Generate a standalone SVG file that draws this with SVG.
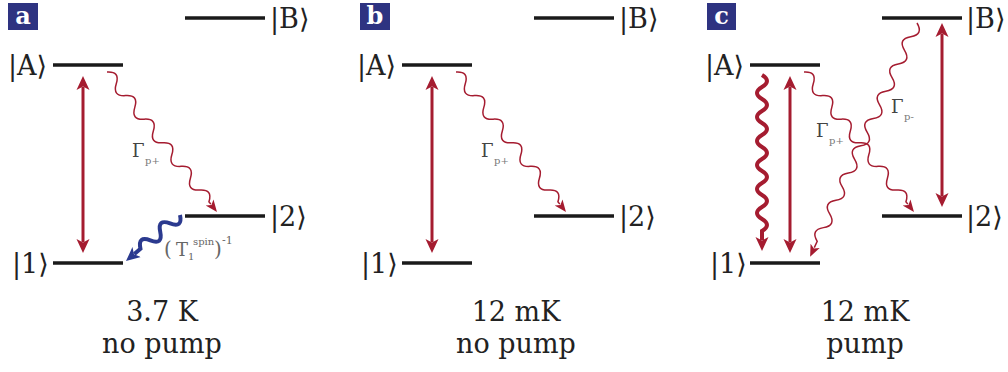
<svg xmlns="http://www.w3.org/2000/svg" width="1008" height="372" viewBox="0 0 1008 372">
<style>
text{font-family:'DejaVu Serif',serif}
.lvl{stroke:#1a1a1a;stroke-width:3.5;fill:none}
.ket{font-size:27px;fill:#222}
.cap{font-size:27px;fill:#222;text-anchor:middle}
.tag{fill:#2e3381}
.tagt{font-size:24px;font-weight:bold;fill:#fff;text-anchor:middle}
.dbl{stroke:#a51c30;stroke-width:3;fill:none;marker-start:url(#hd);marker-end:url(#hd)}
.wv{stroke:#a51c30;stroke-width:1.5;fill:none;marker-end:url(#hw)}
.wvT{stroke:#a51c30;stroke-width:4;fill:none;marker-end:url(#hd)}
.wvB{stroke:#2b3a8f;stroke-width:4;fill:none;marker-end:url(#hb)}
.gam{font-size:18px;fill:#444}
.sub{font-size:10px;fill:#777}
.tl{fill:#666}
</style>
<defs>
<marker id="hd" viewBox="0 -7 15 14" markerWidth="15" markerHeight="14" refX="3" refY="0" orient="auto-start-reverse" markerUnits="userSpaceOnUse">
<path d="M0,-6.5 L14,0 L0,6.5 L3.5,0 Z" fill="#a51c30"/>
</marker>
<marker id="hw" viewBox="0 -6 14 12" markerWidth="14" markerHeight="12" refX="2" refY="0" orient="auto" markerUnits="userSpaceOnUse">
<path d="M0,-5 L12,0 L0,5 L3,0 Z" fill="#a51c30"/>
</marker>
<marker id="hb" viewBox="0 -7 15 14" markerWidth="15" markerHeight="14" refX="3" refY="0" orient="auto" markerUnits="userSpaceOnUse">
<path d="M0,-6.5 L14,0 L0,6.5 L3.5,0 Z" fill="#2b3a8f"/>
</marker>
</defs>
<!-- Panel a -->
<g id="tag-a"><rect class="tag" x="8" y="3" width="30" height="27"/><text class="tagt" x="23" y="24">a</text></g>
<g id="a-B"><line class="lvl" x1="185" y1="18" x2="265" y2="18"/><text class="ket" x="270" y="28">|B⟩</text></g>
<g id="a-A"><line class="lvl" x1="53" y1="65" x2="123" y2="65"/><text class="ket" x="8" y="75">|A⟩</text></g>
<g id="a-2"><line class="lvl" x1="185" y1="216" x2="265" y2="216"/><text class="ket" x="270" y="226">|2⟩</text></g>
<g id="a-1"><line class="lvl" x1="53" y1="263" x2="123" y2="263"/><text class="ket" x="12" y="273">|1⟩</text></g>
<g id="a-cap"><text class="cap" x="162" y="321">3.7 K</text><text class="cap" x="162" y="353">no pump</text></g>

<!-- Panel b -->
<g id="tag-b"><rect class="tag" x="360" y="3" width="30" height="27"/><text class="tagt" x="375" y="24">b</text></g>
<g id="b-B"><line class="lvl" x1="534" y1="18" x2="614" y2="18"/><text class="ket" x="619" y="28">|B⟩</text></g>
<g id="b-A"><line class="lvl" x1="402" y1="65" x2="472" y2="65"/><text class="ket" x="357" y="75">|A⟩</text></g>
<g id="b-2"><line class="lvl" x1="534" y1="216" x2="614" y2="216"/><text class="ket" x="619" y="226">|2⟩</text></g>
<g id="b-1"><line class="lvl" x1="402" y1="263" x2="472" y2="263"/><text class="ket" x="361" y="273">|1⟩</text></g>
<g id="b-cap"><text class="cap" x="516" y="321">12 mK</text><text class="cap" x="516" y="353">no pump</text></g>

<!-- Panel c -->
<g id="tag-c"><rect class="tag" x="707" y="3" width="29" height="27"/><text class="tagt" x="721.5" y="24">c</text></g>
<g id="c-B"><line class="lvl" x1="882" y1="18" x2="962" y2="18"/><text class="ket" x="966" y="28">|B⟩</text></g>
<g id="c-A"><line class="lvl" x1="750" y1="65" x2="820" y2="65"/><text class="ket" x="705" y="75">|A⟩</text></g>
<g id="c-2"><line class="lvl" x1="882" y1="216" x2="962" y2="216"/><text class="ket" x="966" y="226">|2⟩</text></g>
<g id="c-1"><line class="lvl" x1="750" y1="263" x2="820" y2="263"/><text class="ket" x="710" y="273">|1⟩</text></g>
<g id="c-cap"><text class="cap" x="865" y="321">12 mK</text><text class="cap" x="865" y="353">pump</text></g>

<!-- Connectors -->
<g id="connectors">
<line class="dbl" x1="83" y1="87" x2="83" y2="242"/>
<g transform="translate(107,72) rotate(51.84)"><path class="wv" d="M0,0 q7.5,-11 15,0 t15,0 t15,0 t15,0 t15,0 t15,0 t15,0 t15,0 t15,0 t15,0 t15,0 h3"/></g>
<g transform="translate(180,215) rotate(139.5)"><path class="wvB" d="M0,0 q6.5,-12 13,0 t13,0 t13,0 t13,0 h8"/></g>
<line class="dbl" x1="432" y1="87" x2="432" y2="242"/>
<g transform="translate(456,72) rotate(51.84)"><path class="wv" d="M0,0 q7.5,-11 15,0 t15,0 t15,0 t15,0 t15,0 t15,0 t15,0 t15,0 t15,0 t15,0 t15,0 h3"/></g>
<line class="dbl" x1="790" y1="87" x2="790" y2="242"/>
<line class="dbl" x1="942" y1="34" x2="942" y2="196"/>
<g transform="translate(762,75) rotate(90)"><path class="wvT" d="M0,0 q6,-10 12,0 t12,0 t12,0 t12,0 t12,0 t12,0 t12,0 t12,0 t12,0 t12,0 t12,0 t12,0 t12,0 h9"/></g>
<g transform="translate(804,72) rotate(51.84)"><path class="wv" d="M0,0 q7.5,-11 15,0 t15,0 t15,0 t15,0 t15,0 t15,0 t15,0 t15,0 t15,0 t15,0 t15,0 h3"/></g>
<g transform="translate(917,23) rotate(114.57)"><path class="wv" d="M0,0 q7.5,-11 15,0 t15,0 t15,0 t15,0 t15,0 t15,0 t15,0 t15,0 t15,0 t15,0 t15,0 t15,0 t15,0 t15,0 t15,0 t15,0 h7"/></g>
</g>

<g id="lbl-a-gp"><text class="gam" x="132" y="157">Γ</text><text class="sub" x="145" y="164">p+</text></g>
<g id="lbl-a-t1"><text class="tl"><tspan x="164" y="256" font-size="20">(</tspan><tspan x="176" y="256" font-size="18">T</tspan><tspan x="188" y="260" font-size="10">1</tspan><tspan x="193" y="245" font-size="10">spin</tspan><tspan x="214" y="256" font-size="20">)</tspan><tspan x="222" y="244" font-size="11">-1</tspan></text></g>
<g id="lbl-b-gp"><text class="gam" x="481" y="157">Γ</text><text class="sub" x="494" y="164">p+</text></g>
<g id="lbl-c-gp"><text class="gam" x="816" y="137">Γ</text><text class="sub" x="829" y="144">p+</text></g>
<g id="lbl-c-gm"><text class="gam" x="891" y="113">Γ</text><text class="sub" x="904" y="120">p-</text></g>
</svg>
